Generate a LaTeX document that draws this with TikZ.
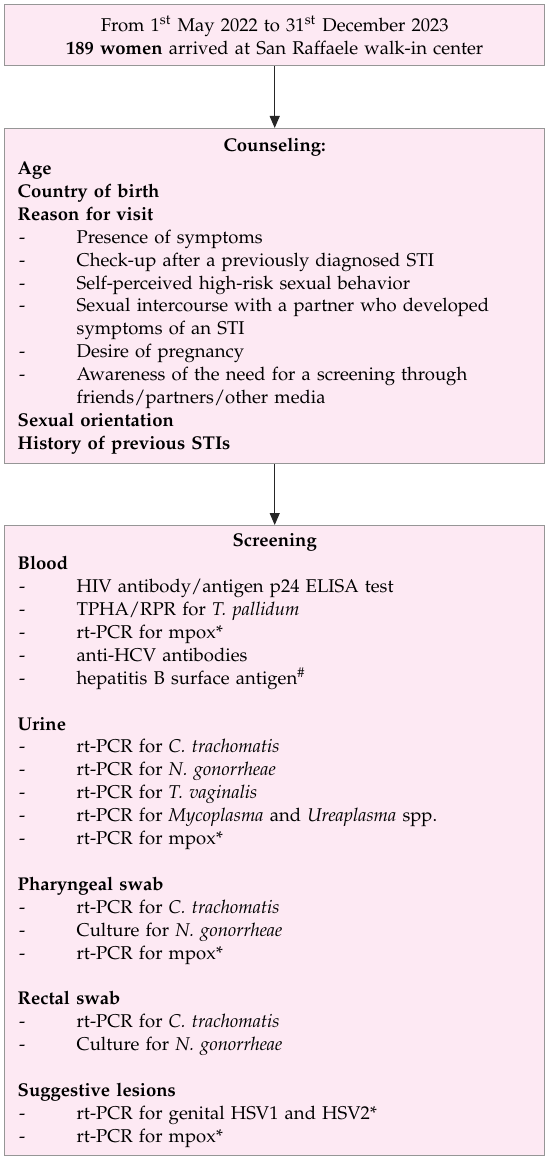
\documentclass[tikz,border=0pt]{standalone}
\usepackage[T1]{fontenc}
\usepackage{mathpazo}
\usepackage{xcolor}
\usetikzlibrary{arrows.meta}

\definecolor{boxpink}{RGB}{253,233,243}
\definecolor{boxline}{RGB}{150,150,150}

\newcommand{\dashitem}[1]{\makebox[29.5pt][l]{\hspace{0.7pt}-}#1}
\newcommand{\moreitem}[1]{\hspace*{29.5pt}#1}
\newcommand{\boxhead}[1]{\hfill\textbf{#1}\hfill\mbox{}}

\tikzset{
  flowbox/.style={draw=boxline, fill=boxpink, line width=0.7pt, anchor=north west,
    inner xsep=6.5pt, inner ysep=0pt, text width=257pt, align=left,
    font=\fontsize{9.25}{11.45}\selectfont},
  flowarrow/.style={draw=black!85, line width=0.6pt, -{Triangle[length=6pt,width=5pt]}}
}

\begin{document}
\begin{tikzpicture}
  \useasboundingbox (0,0) rectangle (275pt,-580.5pt);

  % arrival at the center
  \node[flowbox, align=center, minimum height=30.5pt] (arrival) at (2pt,-2pt)
    {From 1\textsuperscript{st} May 2022 to 31\textsuperscript{st} December 2023\\
     \textbf{189 women} arrived at San Raffaele walk-in center};

  % counseling
  \node[flowbox, minimum height=167.5pt] (counsel) at (2pt,-64pt)
    {\boxhead{Counseling:}\\
     \textbf{Age}\\
     \textbf{Country of birth}\\
     \textbf{Reason for visit}\\
     \dashitem{Presence of symptoms}\\
     \dashitem{Check-up after a previously diagnosed STI}\\
     \dashitem{Self-perceived high-risk sexual behavior}\\
     \dashitem{Sexual intercourse with a partner who developed}\\
     \moreitem{symptoms of an STI}\\
     \dashitem{Desire of pregnancy}\\
     \dashitem{Awareness of the need for a screening through}\\
     \moreitem{friends/partners/other media}\\
     \textbf{Sexual orientation}\\
     \textbf{History of previous STIs}};

  % screening
  \node[flowbox, minimum height=315pt] (screen) at (2pt,-262.5pt)
    {\boxhead{Screening}\\
     \textbf{Blood}\\
     \dashitem{HIV antibody/antigen p24 ELISA test}\\
     \dashitem{TPHA/RPR for \textit{T. pallidum}}\\
     \dashitem{rt-PCR for mpox*}\\
     \dashitem{anti-HCV antibodies}\\
     \dashitem{hepatitis B surface antigen\textsuperscript{\#}}\\[\baselineskip]
     \textbf{Urine}\\
     \dashitem{rt-PCR for \textit{C. trachomatis}}\\
     \dashitem{rt-PCR for \textit{N. gonorrheae}}\\
     \dashitem{rt-PCR for \textit{T. vaginalis}}\\
     \dashitem{rt-PCR for \textit{Mycoplasma} and \textit{Ureaplasma} spp.}\\
     \dashitem{rt-PCR for mpox*}\\[\baselineskip]
     \textbf{Pharyngeal swab}\\
     \dashitem{rt-PCR for \textit{C. trachomatis}}\\
     \dashitem{Culture for \textit{N. gonorrheae}}\\
     \dashitem{rt-PCR for mpox*}\\[\baselineskip]
     \textbf{Rectal swab}\\
     \dashitem{rt-PCR for \textit{C. trachomatis}}\\
     \dashitem{Culture for \textit{N. gonorrheae}}\\[\baselineskip]
     \textbf{Suggestive lesions}\\
     \dashitem{rt-PCR for genital HSV1 and HSV2*}\\
     \dashitem{rt-PCR for mpox*}};

  \draw[flowarrow] (arrival) -- (counsel);
  \draw[flowarrow] (counsel) -- (screen);
\end{tikzpicture}
\end{document}
